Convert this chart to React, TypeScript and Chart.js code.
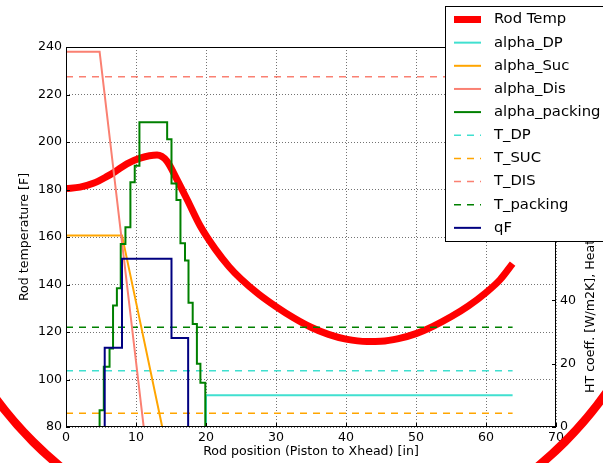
import { useEffect, useRef } from 'react';
import { Chart, registerables } from 'chart.js';

Chart.register(...registerables);

const FONT = 'DejaVu Sans';

// ---- data (x = rod position [in]) ----
const rodX = [0, 2, 3.9, 5.8, 7.0, 8.7, 10.6, 13.0, 14.4, 15.8, 17.3, 19.2, 21.3, 23.3, 25, 27.5, 30, 32.5, 35, 37.5, 40, 43, 45, 47.5, 50, 52.5, 55, 57.5, 60, 62, 63.8];
const rodTemp = [180.4, 181.0, 182.6, 185.4, 187.5, 190.8, 193.2, 194.5, 192.0, 184.5, 175.8, 164.5, 155.0, 147.5, 142.3, 136.0, 130.7, 126.0, 122.0, 119.0, 117.0, 116.0, 116.1, 117.2, 119.3, 122.5, 126.4, 131.0, 136.6, 142.0, 148.8];

const dpX = [0, 20.0, 63.8];
const alphaDP = [0, 10.0, 10.0];

const sucX = [0, 8.0, 13.75, 63.8];
const alphaSuc = [60.5, 60.5, 0, 0];

const disX = [0, 4.8, 11.1, 63.8];
const alphaDis = [118.5, 118.5, 0, 0];

// step lines: each value holds from its x until the next x
const packX = [0, 4.8, 5.4, 6.22, 6.72, 7.27, 7.82, 8.49, 9.2, 9.82, 10.49, 14.45, 15.07, 15.78, 16.35, 17.0, 17.5, 18.1, 18.7, 19.2, 19.9, 63.8];
const alphaPacking = [0, 5.3, 19.0, 24.8, 38.4, 43.8, 57.8, 63.1, 77.3, 82.5, 96.2, 90.9, 76.9, 71.7, 58.0, 52.6, 39.2, 32.5, 20.0, 14.0, 0, 0];

const tX = [0, 63.8];
const tDP = [103.7, 103.7];
const tSUC = [85.8, 85.8];
const tDIS = [227.5, 227.5];
const tPacking = [122.0, 122.0];

const qX = [0, 5.53, 8.0, 15.07, 17.45, 63.8];
const qF = [0, 25.0, 53.1, 28.1, 0, 0];

// ---- ticks ----
const xTicks = [0, 10, 20, 30, 40, 50, 60, 70];
const leftTicks = [80, 100, 120, 140, 160, 180, 200, 220, 240];
const rightTicks = [0, 20, 40, 60, 80, 100, 120];

const X_TITLE = 'Rod position (Piston to Xhead) [in]';
const Y_TITLE = 'Rod temperature [F]';
const Y2_TITLE = 'HT coeff. [W/m2K], Heat flux [W/m2]';

const pts = (xs: number[], ys: number[]) => xs.map((x, i) => ({ x, y: ys[i] }));

const TICK_FONT = { family: FONT, size: 12.6 };

export default function App() {
  const ref = useRef<HTMLCanvasElement>(null);

  useEffect(() => {
    if (!ref.current) return;

    const framePlugin = {
      id: 'frame',
      afterDatasetsDraw(chart: any) {
        const { ctx, chartArea: a, scales } = chart;
        ctx.save();
        ctx.strokeStyle = '#000';
        ctx.lineWidth = 1;
        ctx.strokeRect(a.left + 0.5, a.top + 0.5, a.right - a.left - 1, a.bottom - a.top - 1);
        const L = 4;
        ctx.beginPath();
        xTicks.forEach((v) => {
          const px = Math.round(scales.x.getPixelForValue(v)) + 0.5;
          ctx.moveTo(px, a.bottom);
          ctx.lineTo(px, a.bottom - L);
        });
        leftTicks.forEach((v) => {
          const py = Math.round(scales.y.getPixelForValue(v)) + 0.5;
          ctx.moveTo(a.left, py);
          ctx.lineTo(a.left + L, py);
        });
        rightTicks.forEach((v) => {
          const py = Math.round(scales.y2.getPixelForValue(v)) + 0.5;
          ctx.moveTo(a.right, py);
          ctx.lineTo(a.right - L, py);
        });
        ctx.stroke();
        ctx.restore();
      },
    };

    const ringPlugin = {
      id: 'ring',
      afterDraw(chart: any) {
        const { ctx } = chart;
        ctx.save();
        ctx.strokeStyle = '#ff0000';
        ctx.lineWidth = 8.5;
        ctx.beginPath();
        ctx.arc(299, 176, 376, 0, Math.PI * 2);
        ctx.stroke();
        ctx.restore();
      },
    };

    const rightTitlePlugin = {
      id: 'rightTitle',
      afterDraw(chart: any) {
        const { ctx, chartArea: a } = chart;
        const s = chart.scales.y2;
        ctx.save();
        ctx.translate(s.right - 12, a.bottom - 34);
        ctx.rotate(-Math.PI / 2);
        ctx.font = `12.6px "${FONT}"`;
        ctx.fillStyle = '#000';
        ctx.textAlign = 'left';
        ctx.textBaseline = 'middle';
        ctx.fillText(Y2_TITLE, 0, 0);
        ctx.restore();
      },
    };

    const legendPlugin = {
      id: 'boxLegend',
      afterDraw(chart: any) {
        const { ctx, chartArea: a } = chart;
        const x0 = a.right - 110.5;
        const y0 = 6.5;
        ctx.save();
        ctx.fillStyle = '#fff';
        ctx.fillRect(x0, y0, 220, 235);
        ctx.strokeStyle = '#000';
        ctx.lineWidth = 1;
        ctx.strokeRect(x0, y0, 220, 235);
        chart.data.datasets.forEach((ds: any, i: number) => {
          const y = 19.5 + i * 23.15;
          ctx.beginPath();
          ctx.setLineDash(ds.borderDash || []);
          ctx.lineWidth = ds.borderWidth;
          ctx.strokeStyle = ds.borderColor;
          ctx.moveTo(x0 + 8.5, y);
          ctx.lineTo(x0 + 35.5, y);
          ctx.stroke();
          ctx.setLineDash([]);
          ctx.fillStyle = '#000';
          ctx.font = `14.8px "${FONT}"`;
          ctx.textAlign = 'left';
          ctx.textBaseline = 'middle';
          ctx.fillText(ds.label, x0 + 48.5, y);
        });
        ctx.restore();
      },
    };

    const solid = (label: string, data: any[], color: string, axis: string, order: number, extra: any = {}) => ({
      label, data, borderColor: color, backgroundColor: color, borderWidth: 2, yAxisID: axis,
      pointRadius: 0, fill: false, order, ...extra,
    });
    const dashed = (label: string, data: any[], color: string, order: number) => ({
      label, data, borderColor: color, backgroundColor: color, borderWidth: 1.5, borderDash: [7, 6],
      yAxisID: 'y', pointRadius: 0, fill: false, order,
    });

    const chart = new Chart(ref.current, {
      type: 'line',
      data: {
        datasets: [
          solid('Rod Temp', pts(rodX, rodTemp), '#ff0000', 'y', 10, { borderWidth: 7, cubicInterpolationMode: 'monotone' }),
          solid('alpha_DP', pts(dpX, alphaDP), '#40e0d0', 'y2', 5, { stepped: 'before' }),
          solid('alpha_Suc', pts(sucX, alphaSuc), '#ffa500', 'y2', 4),
          solid('alpha_Dis', pts(disX, alphaDis), '#fa8072', 'y2', 3),
          solid('alpha_packing', pts(packX, alphaPacking), '#008000', 'y2', 2, { stepped: 'before' }),
          dashed('T_DP', pts(tX, tDP), '#40e0d0', 9),
          dashed('T_SUC', pts(tX, tSUC), '#ffa500', 8),
          dashed('T_DIS', pts(tX, tDIS), '#fa8072', 7),
          dashed('T_packing', pts(tX, tPacking), '#008000', 6),
          solid('qF', pts(qX, qF), '#000080', 'y2', 1, { stepped: 'before' }),
        ] as any,
      },
      options: {
        responsive: false,
        animation: false,
        devicePixelRatio: 1,
        layout: { padding: { top: 47, left: 0, right: 0, bottom: 0 } },
        plugins: { legend: { display: false }, tooltip: { enabled: false } },
        scales: {
          x: {
            type: 'linear',
            min: xTicks[0],
            max: xTicks[xTicks.length - 1],
            afterBuildTicks: (s: any) => { s.ticks = xTicks.map((v) => ({ value: v })); },
            afterFit: (s: any) => { s.height = 36; },
            ticks: { font: TICK_FONT, color: '#000', padding: 3, maxRotation: 0, autoSkip: false },
            grid: { color: 'rgba(0,0,0,0.55)', lineWidth: 1, drawTicks: false },
            border: { display: false, dash: [1, 2] },
            title: { display: true, text: X_TITLE, font: TICK_FONT, color: '#000', padding: { top: 0, bottom: 3.4 } },
          },
          y: {
            type: 'linear',
            position: 'left',
            min: leftTicks[0],
            max: leftTicks[leftTicks.length - 1],
            afterBuildTicks: (s: any) => { s.ticks = leftTicks.map((v) => ({ value: v })); },
            afterFit: (s: any) => { s.width = 66; },
            ticks: { font: TICK_FONT, color: '#000', padding: 4, autoSkip: false },
            grid: { color: 'rgba(0,0,0,0.55)', lineWidth: 1, drawTicks: false },
            border: { display: false, dash: [1, 2] },
            title: { display: true, text: Y_TITLE, font: TICK_FONT, color: '#000', padding: { top: 17.4, bottom: 0 } },
          },
          y2: {
            type: 'linear',
            position: 'right',
            min: rightTicks[0],
            max: rightTicks[rightTicks.length - 1],
            afterBuildTicks: (s: any) => { s.ticks = rightTicks.map((v) => ({ value: v })); },
            afterFit: (s: any) => { s.width = 47; },
            ticks: { font: TICK_FONT, color: '#000', padding: 4, autoSkip: false },
            grid: { display: false, drawTicks: false },
            border: { display: false },
          },
        },
      } as any,
      plugins: [framePlugin, ringPlugin, rightTitlePlugin, legendPlugin],
    });

    return () => chart.destroy();
  }, []);

  return (
    <div style={{ position: 'absolute', left: 0, top: 0, width: 603, height: 463, background: '#fff' }}>
      <canvas ref={ref} width={603} height={463} style={{ display: 'block' }} />
    </div>
  );
}
